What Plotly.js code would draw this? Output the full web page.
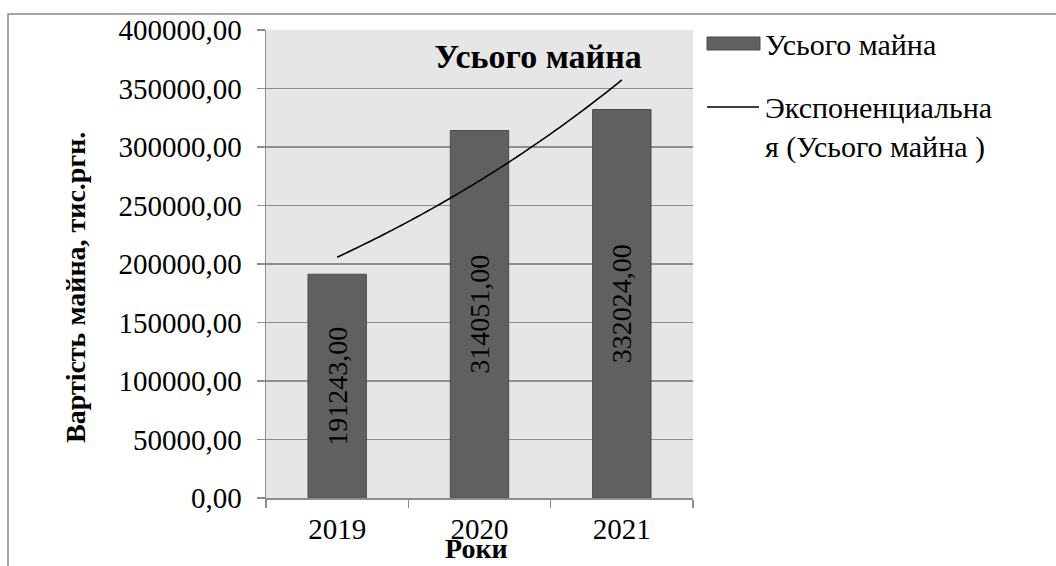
<!DOCTYPE html>
<html>
<head>
<meta charset="utf-8">
<script src="https://cdn.plot.ly/plotly-3.0.1.min.js"></script>
<style>
  html, body { margin: 0; padding: 0; background: #ffffff; }
  #chart { width: 1056px; height: 566px; }
</style>
</head>
<body>
<div id="chart"></div>
<script>
// Вартість усього майна за роками, тис. грн.
const years = ['2019', '2020', '2021'];
const totalAssets = [191243.00, 314051.00, 332024.00];
const seriesName = 'Усього майна';
const trendName = 'Экспоненциальна<br>я (Усього майна )';

// Exponential trend y = a·e^(b·t), fitted by least squares on ln(y), t = 1..n
function expTrend(values) {
  const n = values.length;
  const t = values.map((_, i) => i + 1);
  const ly = values.map(v => Math.log(v));
  const mt = t.reduce((s, v) => s + v, 0) / n;
  const my = ly.reduce((s, v) => s + v, 0) / n;
  let num = 0, den = 0;
  for (let i = 0; i < n; i++) {
    num += (t[i] - mt) * (ly[i] - my);
    den += (t[i] - mt) * (t[i] - mt);
  }
  const b = num / den;
  const a = Math.exp(my - b * mt);
  const xs = [], ys = [];
  const steps = 60;
  for (let k = 0; k <= steps; k++) {
    const tt = 1 + (n - 1) * k / steps;
    xs.push(tt - 1);               // category index on the overlay axis
    ys.push(a * Math.exp(b * tt));
  }
  return { xs, ys };
}

const trend = expTrend(totalAssets);
const labels = totalAssets.map(v => v.toFixed(2).replace('.', ','));

const serif = '"Liberation Serif", "Times New Roman", serif';
const gridGray = '#8e8e8e';

const bars = {
  type: 'bar',
  name: seriesName,
  x: years,
  y: totalAssets,
  width: 0.41,
  marker: { color: '#606060', line: { color: '#4a4a4a', width: 1 } },
  text: labels,
  textposition: 'inside',
  insidetextanchor: 'middle',
  textangle: -90,
  constraintext: 'none',
  textfont: { family: serif, size: 28, color: '#000000' },
  hoverinfo: 'x+y',
  showlegend: false
};

const trendLine = {
  type: 'scatter',
  mode: 'lines',
  name: trendName,
  x: trend.xs,
  y: trend.ys,
  xaxis: 'x2',
  line: { color: '#000000', width: 1.6, shape: 'spline' },
  hoverinfo: 'skip',
  showlegend: false
};

// pixel helpers for the chart frame and the hand-drawn legend
const L = 266, R = 693, T = 30, B = 498;
const px = x => (x - L) / (R - L);
const py = y => (B - y) / (B - T);

const layout = {
  width: 1056,
  height: 566,
  margin: { l: L, r: 1056 - R, t: T, b: 566 - B, pad: 0 },
  paper_bgcolor: '#ffffff',
  plot_bgcolor: '#e6e6e6',
  font: { family: serif, color: '#000000', size: 28 },
  separators: ', ',
  showlegend: false,
  bargap: 0.59,
  title: {
    text: '<b>Усього майна</b>',
    font: { family: serif, size: 34, color: '#000000' },
    xref: 'paper', x: px(538), xanchor: 'center',
    yref: 'container', y: 1 - 56 / 566, yanchor: 'middle'
  },
  xaxis: {
    type: 'category',
    range: [-0.5, 2.5],
    showgrid: false,
    showline: true,
    linecolor: gridGray,
    linewidth: 1.5,
    ticks: 'outside',
    tickson: 'boundaries',
    ticklen: 8,
    tickwidth: 1.5,
    tickcolor: gridGray,
    ticklabelstandoff: 5,
    tickfont: { family: serif, size: 29 },
    fixedrange: true
  },
  xaxis2: {
    overlaying: 'x',
    range: [-0.5, 2.5],
    visible: false,
    fixedrange: true
  },
  yaxis: {
    range: [0, 400000],
    dtick: 50000,
    tick0: 0,
    tickformat: '.2f',
    showgrid: true,
    gridcolor: gridGray,
    gridwidth: 1.5,
    zeroline: false,
    showline: true,
    linecolor: gridGray,
    linewidth: 1.5,
    ticks: 'outside',
    ticklen: 8,
    tickwidth: 1.5,
    tickcolor: gridGray,
    ticklabelstandoff: 9,
    tickfont: { family: serif, size: 29 },
    fixedrange: true
  },
  shapes: [
    // chart frame
    { type: 'rect', xref: 'paper', yref: 'paper', x0: px(8), x1: px(1070), y0: py(14), y1: py(580),
      line: { color: '#8a8a8a', width: 1.5 }, fillcolor: 'rgba(0,0,0,0)', layer: 'below' },
    // legend keys
    { type: 'rect', xref: 'paper', yref: 'paper', x0: px(707), x1: px(760), y0: py(37), y1: py(50),
      fillcolor: '#606060', line: { color: '#4a4a4a', width: 1 } },
    { type: 'line', xref: 'paper', yref: 'paper', x0: px(707), x1: px(759), y0: py(107), y1: py(107),
      line: { color: '#000000', width: 1.6 } }
  ],
  annotations: [
    { text: seriesName, xref: 'paper', yref: 'paper', x: px(763), y: py(44),
      xanchor: 'left', yanchor: 'middle', showarrow: false, font: { family: serif, size: 30 } },
    { text: trendName, xref: 'paper', yref: 'paper', x: px(763), y: py(127),
      xanchor: 'left', yanchor: 'middle', align: 'left', showarrow: false,
      font: { family: serif, size: 30 } },
    { text: '<b>Вартість майна, тис.ргн.</b>', xref: 'paper', yref: 'paper', x: px(75), y: py(288),
      xanchor: 'center', yanchor: 'middle', textangle: -90, showarrow: false,
      font: { family: serif, size: 28 } },
    { text: '<b>Роки</b>', xref: 'paper', yref: 'paper', x: px(476), y: py(548),
      xanchor: 'center', yanchor: 'middle', showarrow: false,
      font: { family: serif, size: 28 } }
  ]
};

Plotly.newPlot('chart', [bars, trendLine], layout, { displayModeBar: false, staticPlot: true });
</script>
</body>
</html>
